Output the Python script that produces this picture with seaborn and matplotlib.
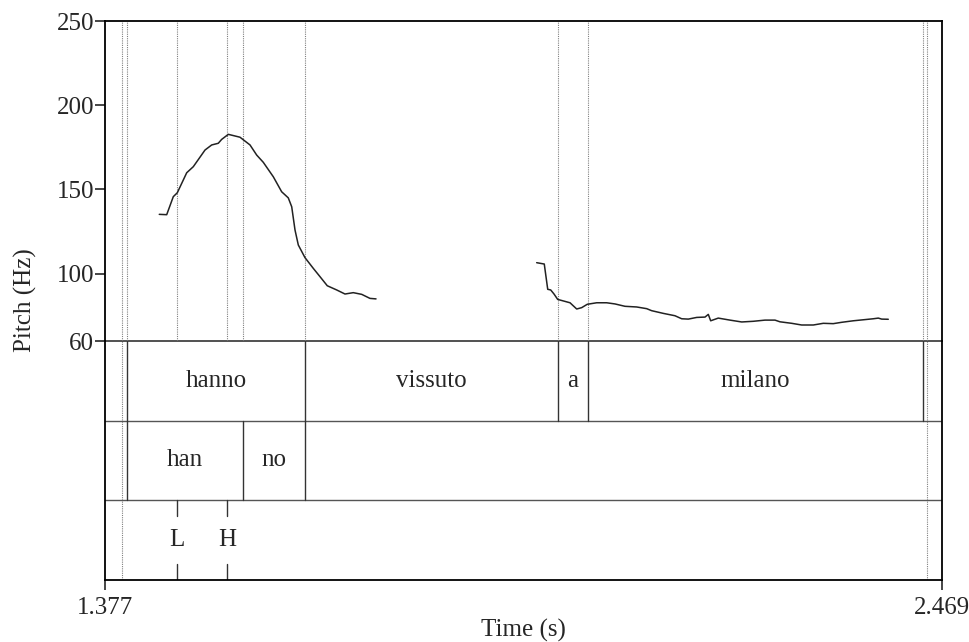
import matplotlib
matplotlib.use("Agg")
import matplotlib.pyplot as plt
import numpy as np
import pandas as pd
import seaborn as sns

# Time window (s) and pitch range (Hz)
t_start, t_end = 1.377, 2.469
f_min, f_max = 60, 250
pitch_ticks = [60, 100, 150, 200, 250]

# Pitch contour, voiced stretch 1 ("hanno")
seg1_time = [1.4478, 1.4575, 1.4661, 1.4713, 1.4836, 1.4922, 1.5075, 1.5162,
             1.5248, 1.5292, 1.5379, 1.5531, 1.5662, 1.5749, 1.5835, 1.5966,
             1.6075, 1.6161, 1.6206, 1.6249, 1.6292, 1.6379, 1.6488, 1.6575,
             1.6670, 1.6793, 1.6901, 1.7009, 1.7119, 1.7227, 1.7306]
seg1_hz = [135.2, 135.0, 145.7, 148.0, 159.9, 163.5, 173.4, 176.4,
           177.4, 179.7, 182.7, 181.0, 176.4, 170.4, 166.1, 157.5,
           148.6, 145.0, 139.7, 125.9, 117.0, 109.5, 103.1, 98.2,
           92.8, 90.3, 87.9, 88.7, 87.7, 85.3, 85.0]

# Pitch contour, voiced stretch 2 ("a milano")
seg2_time = [1.9402, 1.9501, 1.9546, 1.9585, 1.9628, 1.9676, 1.9837, 1.9924,
             1.9989, 2.0062, 2.0185, 2.0315, 2.0424, 2.0554, 2.0707, 2.0837,
             2.0902, 2.1054, 2.1206, 2.1294, 2.1380, 2.1490, 2.1598, 2.1641,
             2.1672, 2.1771, 2.1924, 2.2077, 2.2228, 2.2381, 2.2511, 2.2576,
             2.2729, 2.2859, 2.3011, 2.3141, 2.3271, 2.3381, 2.3532, 2.3663,
             2.3793, 2.3859, 2.3903, 2.3989]
seg2_hz = [106.5, 105.7, 90.7, 90.3, 87.9, 84.7, 82.7, 79.0,
           79.8, 81.8, 82.7, 82.7, 82.0, 80.6, 80.2, 79.2,
           78.0, 76.4, 75.0, 73.2, 73.0, 74.0, 74.2, 75.8,
           72.0, 73.6, 72.4, 71.3, 71.7, 72.4, 72.4, 71.4,
           70.5, 69.5, 69.5, 70.5, 70.3, 71.1, 72.0, 72.6,
           73.2, 73.6, 73.0, 72.9]

# TextGrid tiers
word_bounds = [1.3770, 1.4053, 1.6383, 1.9676, 2.0075, 2.4438, 2.4690]
word_labels = ["", "hanno", "vissuto", "a", "milano", ""]
syl_bounds = [1.4053, 1.5570, 1.6383]
syl_labels = ["han", "no"]
tone_times = [1.4713, 1.5366]
tone_labels = ["L", "H"]
# boundaries of a further tier, shown only as dotted guides
extra_bounds = [1.3988, 2.4498]

sns.set_style("white")
plt.rcParams["font.family"] = ["Liberation Serif", "DejaVu Serif"]
FS = 18
plt.rcParams["font.size"] = FS

W, H = 970, 642
fig = plt.figure(figsize=(W / 100, H / 100), dpi=100)

x0, x1 = 105, 942
y_top, y_mid, y_bot = 21, 341, 580


def frac_box(left, top, right, bottom):
    return [left / W, 1 - bottom / H, (right - left) / W, (bottom - top) / H]


ax_t = fig.add_axes(frac_box(x0, y_mid, x1, y_bot))
ax_p = fig.add_axes(frac_box(x0, y_top, x1, y_mid), sharex=ax_t)
ax_p.patch.set_visible(False)
ax_t.patch.set_visible(False)

curve = pd.DataFrame({
    "time": seg1_time + seg2_time,
    "pitch": seg1_hz + seg2_hz,
    "stretch": [1] * len(seg1_time) + [2] * len(seg2_time),
})
sns.lineplot(data=curve, x="time", y="pitch", units="stretch", estimator=None,
             color="#222222", linewidth=1.1, ax=ax_p, legend=False)

ax_p.set_xlim(t_start, t_end)
ax_p.set_ylim(f_min, f_max)

guide_kw = dict(color="#808080", linestyle=(0, (1, 1)), linewidth=0.8, zorder=0)
for t in sorted(set(word_bounds[1:-1] + syl_bounds + tone_times)):
    ax_p.axvline(t, **guide_kw)
for t in extra_bounds:
    ax_p.axvline(t, **guide_kw)
    ax_t.axvline(t, **guide_kw)

ax_p.set_yticks(pitch_ticks)
ax_p.set_yticklabels([str(v) for v in pitch_ticks])
ax_p.tick_params(axis="y", direction="out", length=7, width=1.2, pad=1,
                 labelsize=FS, left=True)
ax_p.tick_params(axis="x", bottom=False, labelbottom=False)
ax_p.set_xlabel("")
ax_p.set_ylabel("")
for side in ["top", "right", "left"]:
    ax_p.spines[side].set_visible(True)
    ax_p.spines[side].set_color("black")
    ax_p.spines[side].set_linewidth(1.3)
ax_p.spines["bottom"].set_visible(False)

# Tier panel: y from 0 (bottom) to 3 (top), one unit per tier
ax_t.set_ylim(0, 3)
ax_t.set_yticks([])
line_kw = dict(color="#333333", linewidth=1.0)
for y in [1, 2]:
    ax_t.axhline(y, color="#555555", linewidth=1.0)
ax_t.axhline(3, color="#222222", linewidth=1.1, clip_on=False)

for b in word_bounds[1:-1]:
    ax_t.plot([b, b], [2, 3], **line_kw)
for lab, a, b in zip(word_labels, word_bounds[:-1], word_bounds[1:]):
    if lab:
        ax_t.text((a + b) / 2, 2.5, lab, ha="center", va="center", fontsize=FS)

for b in syl_bounds:
    ax_t.plot([b, b], [1, 2], **line_kw)
for lab, a, b in zip(syl_labels, syl_bounds[:-1], syl_bounds[1:]):
    ax_t.text((a + b) / 2, 1.5, lab, ha="center", va="center", fontsize=FS)

for t, lab in zip(tone_times, tone_labels):
    ax_t.plot([t, t], [0.8, 1.0], **line_kw)
    ax_t.plot([t, t], [0.0, 0.2], **line_kw)
    ax_t.text(t, 0.5, lab, ha="center", va="center", fontsize=FS)

ax_t.set_xticks([t_start, t_end])
ax_t.set_xticklabels([f"{t_start:.3f}", f"{t_end:.3f}"])
ax_t.tick_params(axis="x", direction="out", length=7, width=1.2, pad=5,
                 labelsize=FS, bottom=True)
for side in ["bottom", "right", "left"]:
    ax_t.spines[side].set_visible(True)
    ax_t.spines[side].set_color("black")
    ax_t.spines[side].set_linewidth(1.3)
ax_t.spines["top"].set_visible(False)

fig.text(25 / W, 1 - 300 / H, "Pitch (Hz)", rotation=90, ha="center",
         va="center", fontsize=FS)
fig.text(((x0 + x1) / 2) / W, 1 - 630 / H, "Time (s)", ha="center",
         va="center", fontsize=FS)

fig.savefig("out.png", dpi=100, facecolor="white")
